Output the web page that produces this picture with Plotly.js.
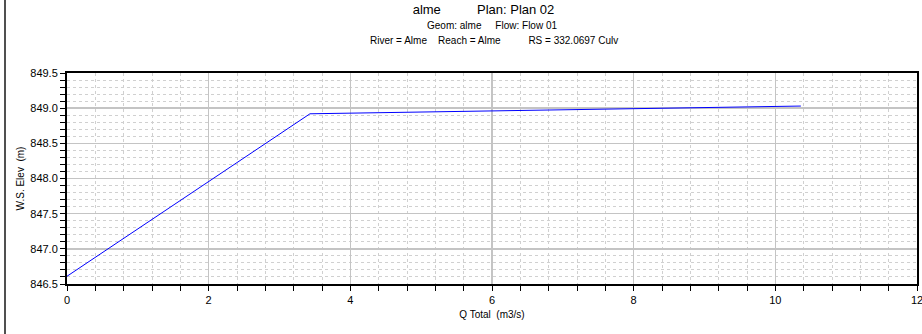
<!DOCTYPE html>
<html>
<head>
<meta charset="utf-8">
<script src="https://cdn.plot.ly/plotly-3.0.1.min.js"></script>
<style>
  html, body { margin: 0; padding: 0; background: #fff; }
  #wrap { position: relative; width: 922px; height: 334px; overflow: hidden; }
  #edge { position: absolute; left: 4px; top: 0; width: 2px; height: 334px; background: #505050; }
  #chart { position: absolute; left: 0; top: 0; width: 922px; height: 334px; }
</style>
</head>
<body>
<div id="wrap"><div id="chart"></div><div id="edge"></div></div>
<script>
const qTotal = [0, 3.43, 10.36];
const wsElev = [846.61, 848.92, 849.03];
const titleMain = "alme" + "&nbsp;".repeat(10) + "Plan: Plan 02";
const titleSub1 = "Geom: alme" + "&nbsp;".repeat(5) + "Flow: Flow 01";
const titleSub2 = "River = Alme" + "&nbsp;".repeat(4) + "Reach = Alme" + "&nbsp;".repeat(10) + "RS = 332.0697 Culv";
const xTitle = "Q Total&nbsp;&nbsp;(m3/s)";
const yTitle = "W.S. Elev&nbsp;&nbsp;(m)";

const font = "Arial, 'Liberation Sans', sans-serif";

Plotly.newPlot("chart", [{
  x: qTotal, y: wsElev, type: "scatter", mode: "lines",
  line: { color: "#0000ff", width: 1 }, showlegend: false, hoverinfo: "skip"
}], {
  width: 922, height: 334,
  margin: { l: 67, r: 5, t: 73, b: 50 },
  paper_bgcolor: "#ffffff", plot_bgcolor: "#ffffff",
  font: { family: font, color: "#000", size: 11 },
  title: { text: titleMain, font: { family: font, size: 13, color: "#000" },
           x: 0.49, xanchor: "center", y: 0.972, yanchor: "middle", xref: "paper" },
  annotations: [
    { text: titleSub1, xref: "paper", yref: "paper", x: 0.4995, xanchor: "center",
      y: 1.227, yanchor: "middle", showarrow: false, font: { family: font, size: 10, color: "#000" } },
    { text: titleSub2, xref: "paper", yref: "paper", x: 0.5025, xanchor: "center",
      y: 1.152, yanchor: "middle", showarrow: false, font: { family: font, size: 10, color: "#000" } }
  ],
  xaxis: {
    range: [0, 12], dtick: 2, tick0: 0, showline: true, linecolor: "#000", linewidth: 2, mirror: true,
    ticks: "outside", ticklen: 5, tickcolor: "#000", tickwidth: 1,
    showgrid: true, gridcolor: "#c4c4c4", gridwidth: 1.5, zeroline: false,
    tickfont: { size: 11 }, ticklabeloverflow: "allow",
    minor: { dtick: 0.4, tick0: 0, ticks: "outside", ticklen: 5, tickcolor: "#000",
             showgrid: true, gridcolor: "#d0d0d0", griddash: "3px,3px", gridwidth: 1 },
    title: { text: xTitle, font: { size: 10 }, standoff: 6 }
  },
  yaxis: {
    range: [846.5, 849.5], dtick: 0.5, tick0: 846.5, tickformat: ".1f",
    showline: true, linecolor: "#000", linewidth: 2, mirror: true,
    ticks: "outside", ticklen: 5, tickcolor: "#000", tickwidth: 1,
    showgrid: true, gridcolor: "#c4c4c4", gridwidth: 1.5, zeroline: false,
    tickfont: { size: 11 },
    minor: { dtick: 0.1, tick0: 846.5, ticks: "outside", ticklen: 5, tickcolor: "#000",
             showgrid: true, gridcolor: "#d0d0d0", griddash: "3px,3px", gridwidth: 1 },
    title: { text: yTitle, font: { size: 10 }, standoff: 4 }
  }
}, { displayModeBar: false, staticPlot: true });
</script>
</body>
</html>
